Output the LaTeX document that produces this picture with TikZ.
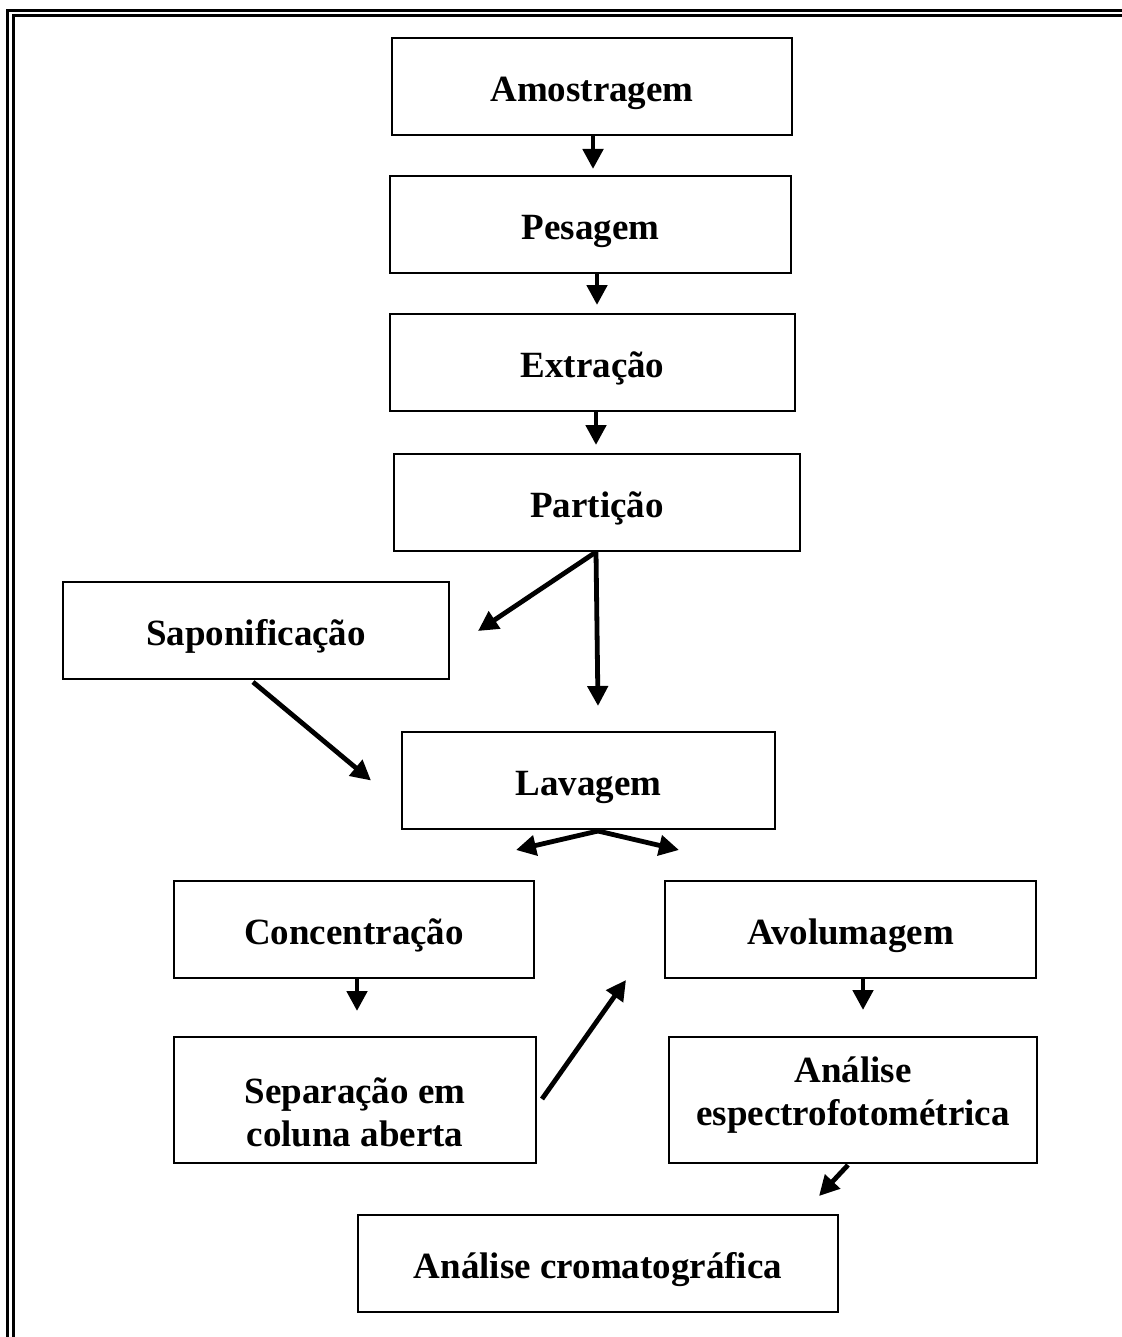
\documentclass[tikz,border=0pt]{standalone}
\usepackage{fontspec}
\setmainfont{Liberation Serif}
\usetikzlibrary{arrows.meta,calc}
\begin{document}
\begin{tikzpicture}[x=0.5pt,y=-0.5pt,
  box/.style={draw,line width=1pt,inner sep=0pt,minimum height=48.5pt,
    text height=15.4pt,text depth=0pt,
    font=\fontsize{18.5}{21.5}\selectfont\bfseries,align=center},
  tall/.style={draw,line width=1pt,inner sep=0pt,minimum height=63pt},
  lbl/.style={inner sep=0pt,font=\fontsize{18.5}{21.5}\selectfont\bfseries,align=center},
  arr/.style={line width=2.4pt,-{Triangle[length=10pt,width=10pt]}},
  frame/.style={line width=1.5pt}]
\useasboundingbox (0,0) rectangle (1122,1337);
% border (left and top only)
\draw[frame] (7.5,1337) -- (7.5,10.5) -- (1122,10.5);
\draw[frame] (13,1337) -- (13,15.5) -- (1122,15.5);
% boxes
\node[box,minimum width=200pt] (am) at (592,86.5) {Amostragem};
\node[box,minimum width=200.5pt] (pe) at (590.5,224.5) {Pesagem};
\node[box,minimum width=202.5pt] (ex) at (592.5,362.5) {Extração};
\node[box,minimum width=203pt] (pa) at (597,502.5) {Partição};
\node[box,minimum width=193pt] (sa) at (256,630.5) {Saponificação};
\node[box,minimum width=186.5pt] (la) at (588.5,780.5) {Lavagem};
\node[box,minimum width=180pt] (co) at (354,929.5) {Concentração};
\node[box,minimum width=185.5pt] (av) at (850.5,929.5) {Avolumagem};
\node[tall,minimum width=181pt] (se) at (355,1100) {};
\node[lbl] (set) at (355,1112) {Separação em\\coluna aberta};
\node[lbl] (ant) at (853,1095) {Análise\\espectrofotométrica};
\node[tall,minimum width=184pt] (an) at (853,1100) {};
\node[box,minimum width=240pt] (cr) at (598,1263.5) {Análise cromatográfica};
% arrows
\draw[arr] ($(am.south)+(1,0)$) -- ($(pe.north)+(2.5,-6)$);
\draw[arr] ($(pe.south)+(6.5,0)$) -- ($(ex.north)+(4.5,-8)$);
\draw[arr] ($(ex.south)+(3.5,0)$) -- ($(pa.north)+(-1,-8)$);
\draw[arr] ($(pa.south)+(-1,0)$) -- ($(sa.east)+(28,0.5)$);
\draw[arr] ($(pa.south)+(-1,0)$) -- ($(la.north)+(9.5,-25)$);
\draw[arr] ($(sa.south)+(-3,2)$) -- ($(la.west)+(-30,0)$);
\draw[arr] ($(la.south)+(9.5,1)$) -- ($(co.north)+(162,-30)$);
\draw[arr] ($(la.south)+(9.5,1)$) -- ($(av.north)+(-171.5,-30)$);
\draw[arr] ($(co.south)+(3,0)$) -- ($(se.north)+(2,-25)$);
\draw[arr] ($(se.east)+(5,-1)$) -- ($(av.south west)+(-38,1)$);
\draw[arr] ($(av.south)+(12.5,0)$) -- ($(an.north)+(10,-26)$);
\draw[arr] ($(an.south)+(-5,1)$) -- ($(cr.north)+(221,-18)$);
\end{tikzpicture}
\end{document}
